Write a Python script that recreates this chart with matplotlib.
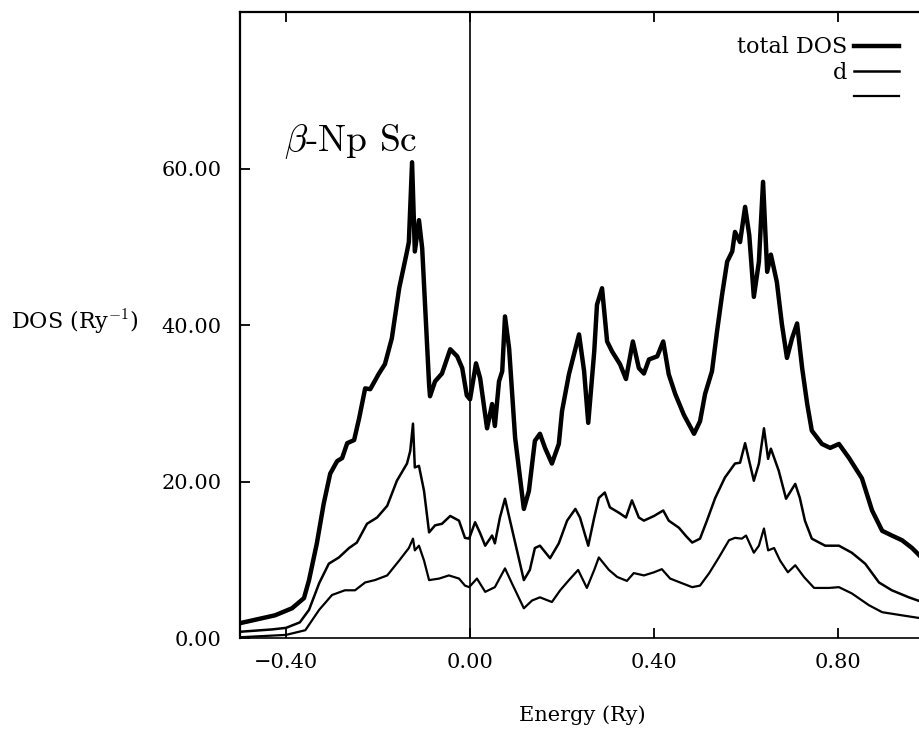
import matplotlib
matplotlib.use("Agg")
import matplotlib.pyplot as plt

plt.rcParams["font.family"] = ["DejaVu Serif"]
plt.rcParams["mathtext.fontset"] = "cm"

# total DOS
E_tot = [-0.5, -0.424, -0.387, -0.361, -0.35, -0.333, -0.318, -0.304, -0.289, -0.278,
         -0.267, -0.252, -0.241, -0.228, -0.217, -0.198, -0.185, -0.17, -0.154, -0.137,
         -0.133, -0.126, -0.12, -0.111, -0.104, -0.089, -0.087, -0.076, -0.061, -0.043,
         -0.028, -0.017, -0.007, 0.0, 0.013, 0.022, 0.037, 0.048, 0.054, 0.063,
         0.07, 0.076, 0.085, 0.098, 0.117, 0.128, 0.141, 0.152, 0.163, 0.178,
         0.193, 0.2, 0.215, 0.237, 0.248, 0.257, 0.27, 0.276, 0.287, 0.298,
         0.309, 0.326, 0.339, 0.354, 0.367, 0.378, 0.389, 0.407, 0.42, 0.432,
         0.446, 0.465, 0.487, 0.5, 0.511, 0.526, 0.537, 0.548, 0.559, 0.57,
         0.576, 0.587, 0.598, 0.607, 0.617, 0.628, 0.637, 0.646, 0.654, 0.667,
         0.678, 0.689, 0.7, 0.711, 0.722, 0.733, 0.743, 0.765, 0.783, 0.802,
         0.824, 0.852, 0.874, 0.896, 0.917, 0.939, 0.961, 0.983, 1.0]
dos_tot = [1.9, 2.9, 3.8, 5.1, 7.4, 12.1, 17.2, 21.0, 22.6, 23.0,
           24.9, 25.3, 28.1, 31.9, 31.8, 33.8, 35.0, 38.3, 44.7, 49.4,
           50.6, 60.8, 49.4, 53.4, 49.8, 32.4, 30.9, 32.8, 33.8, 36.9,
           36.0, 34.5, 31.0, 30.5, 35.1, 33.2, 26.8, 29.9, 27.1, 32.8,
           34.1, 41.1, 37.0, 25.6, 16.5, 18.8, 25.2, 26.1, 24.3, 22.3,
           24.8, 29.0, 33.7, 38.8, 34.1, 27.5, 36.6, 42.6, 44.7, 37.9,
           36.6, 35.0, 33.1, 37.9, 34.5, 33.8, 35.6, 36.0, 37.9, 33.7,
           31.2, 28.5, 26.1, 27.7, 31.2, 34.1, 39.2, 43.9, 48.1, 49.4,
           51.9, 50.6, 55.1, 51.5, 43.6, 48.1, 58.3, 46.8, 49.0, 45.5,
           40.1, 35.8, 38.3, 40.2, 34.5, 29.9, 26.5, 24.8, 24.3, 24.8,
           23.0, 20.4, 16.3, 13.7, 13.1, 12.5, 11.5, 10.2, 9.6]

# d partial DOS
E_d = [-0.5, -0.43, -0.4, -0.37, -0.35, -0.328, -0.307, -0.285, -0.263, -0.246,
       -0.224, -0.202, -0.18, -0.159, -0.137, -0.13, -0.124, -0.12, -0.111, -0.1,
       -0.089, -0.076, -0.061, -0.043, -0.024, -0.011, -0.002, 0.011, 0.022, 0.033,
       0.048, 0.054, 0.065, 0.076, 0.087, 0.102, 0.117, 0.13, 0.141, 0.152,
       0.174, 0.193, 0.211, 0.229, 0.239, 0.257, 0.27, 0.28, 0.293, 0.304,
       0.324, 0.339, 0.352, 0.367, 0.378, 0.4, 0.42, 0.432, 0.454, 0.47,
       0.483, 0.5, 0.515, 0.533, 0.554, 0.576, 0.587, 0.598, 0.607, 0.617,
       0.628, 0.639, 0.648, 0.654, 0.671, 0.687, 0.707, 0.717, 0.728, 0.743,
       0.772, 0.802, 0.83, 0.859, 0.889, 0.917, 0.954, 0.983, 1.0]
dos_d = [0.8, 1.1, 1.3, 2.0, 3.6, 7.0, 9.5, 10.3, 11.5, 12.2,
         14.6, 15.4, 16.9, 20.1, 22.3, 23.9, 27.4, 21.8, 22.0, 18.8,
         13.5, 14.4, 14.6, 15.6, 15.0, 12.8, 12.7, 14.8, 13.4, 11.8,
         13.1, 12.1, 15.4, 17.8, 15.0, 11.2, 7.4, 8.7, 11.5, 11.8,
         10.2, 12.1, 15.0, 16.5, 15.4, 11.8, 15.4, 17.9, 18.6, 16.7,
         16.0, 15.4, 17.6, 15.4, 15.0, 15.6, 16.3, 15.0, 14.1, 13.0,
         12.2, 12.7, 15.0, 17.9, 20.5, 22.3, 22.4, 24.9, 22.6, 20.1,
         22.3, 26.8, 22.9, 24.2, 21.4, 17.8, 19.7, 17.9, 15.0, 12.7,
         11.8, 11.8, 10.9, 9.5, 7.1, 6.1, 5.2, 4.6, 4.3]

# third (unlabelled) partial DOS
E_3 = [-0.5, -0.4, -0.358, -0.328, -0.3, -0.272, -0.25, -0.228, -0.207, -0.18,
       -0.154, -0.133, -0.124, -0.12, -0.111, -0.1, -0.089, -0.067, -0.046, -0.024,
       -0.011, -0.002, 0.015, 0.033, 0.054, 0.076, 0.091, 0.117, 0.135, 0.152,
       0.178, 0.196, 0.215, 0.235, 0.254, 0.27, 0.28, 0.302, 0.32, 0.341,
       0.356, 0.378, 0.4, 0.417, 0.435, 0.461, 0.483, 0.5, 0.52, 0.541,
       0.563, 0.576, 0.591, 0.6, 0.617, 0.628, 0.639, 0.648, 0.661, 0.674,
       0.691, 0.707, 0.726, 0.748, 0.78, 0.802, 0.83, 0.867, 0.896, 0.939,
       0.983, 1.0]
dos_3 = [0.1, 0.4, 1.0, 3.6, 5.5, 6.1, 6.1, 7.1, 7.4, 8.0,
         9.9, 11.5, 12.7, 11.2, 11.8, 9.9, 7.4, 7.6, 8.0, 7.6,
         6.7, 6.5, 7.6, 5.9, 6.5, 8.9, 7.0, 3.8, 4.8, 5.2,
         4.6, 6.1, 7.4, 8.7, 6.4, 8.7, 10.3, 8.7, 7.8, 7.3,
         8.3, 8.0, 8.4, 8.8, 7.6, 7.0, 6.5, 6.7, 8.3, 10.3,
         12.5, 12.8, 12.7, 13.1, 10.9, 11.8, 14.0, 11.2, 11.5, 9.9,
         8.4, 9.3, 7.8, 6.4, 6.4, 6.5, 5.7, 4.2, 3.3, 2.9,
         2.5, 2.3]

xticks = [-0.4, 0.0, 0.4, 0.8]
xtick_labels = ["\u22120.40", "0.00", "0.40", "0.80"]
yticks = [0, 20, 40, 60]
ytick_labels = ["0.00", "20.00", "40.00", "60.00"]

fig = plt.figure(figsize=(9.2, 7.29), dpi=100)
ax = fig.add_axes([0.2609, 0.1248, 0.75, 0.8587])

l1, = ax.plot(E_tot, dos_tot, color="black", linewidth=3.2)
l2, = ax.plot(E_d, dos_d, color="black", linewidth=1.8)
l3, = ax.plot(E_3, dos_3, color="black", linewidth=1.6)

# Fermi level
ax.axvline(0.0, color="black", linewidth=1.2)

ax.set_xlim(-0.5, 1.0)
ax.set_ylim(0, 80)
ax.set_xticks(xticks)
ax.set_xticklabels(xtick_labels, fontsize=15)
ax.set_yticks(yticks)
ax.set_yticklabels(ytick_labels, fontsize=15)
ax.tick_params(direction="in", length=7, width=1.3, top=True, right=True)
ax.tick_params(axis="x", pad=11)
ax.tick_params(axis="y", pad=13)
for s in ax.spines.values():
    s.set_linewidth(1.6)
ax.spines["bottom"].set_linewidth(1.2)

fig.text(582 / 920, 1 - 715 / 729, "Energy (Ry)", fontsize=15, ha="center", va="center")
fig.text(75 / 920, 1 - 322 / 729, "DOS (Ry$^{-1}$)", fontsize=16, ha="center", va="center")

ax.text(-0.405, 63.4, r"$\beta$-Np Sc", fontsize=27, ha="left", va="center",
        family="cmr10", math_fontfamily="cm")

ax.legend([l1, l2, l3], ["total DOS", "d", " "], loc="upper right",
          bbox_to_anchor=(0.977, 0.95), bbox_transform=fig.transFigure,
          frameon=False, markerfirst=False, fontsize=16, handlelength=2.0,
          handletextpad=0.3, labelspacing=0.15, borderaxespad=0, borderpad=0)

fig.savefig("out.png", dpi=100)
